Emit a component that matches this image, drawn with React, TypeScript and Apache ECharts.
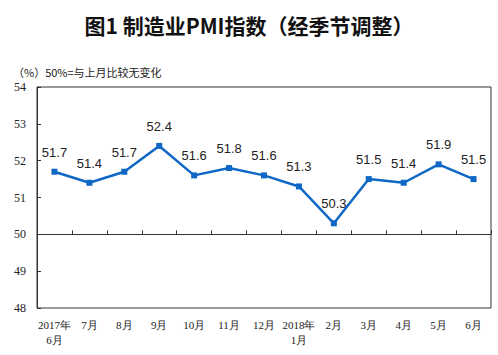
import React, { useEffect, useRef } from "react";
import * as echarts from "echarts";

const categories = ["2017年\n6月", "7月", "8月", "9月", "10月", "11月", "12月", "2018年\n1月", "2月", "3月", "4月", "5月", "6月"];
const pmiValues = [51.7, 51.4, 51.7, 52.4, 51.6, 51.8, 51.6, 51.3, 50.3, 51.5, 51.4, 51.9, 51.5];
const titleText = "图1 制造业PMI指数（经季节调整）";
const noteText = "（%）50%=与上月比较无变化";

export default function App() {
  const ref = useRef<HTMLDivElement>(null);
  useEffect(() => {
    if (!ref.current) return;
    const chart = echarts.init(ref.current, null, { renderer: "svg" });
    const gridTop = 87;
    const gridBottom = 47;
    const gridHeight = 355 - gridTop - gridBottom;
    const offset50 = -(gridHeight * (50 - 48)) / (54 - 48);
    chart.setOption({
      animation: false,
      backgroundColor: "#ffffff",
      title: [
        {
          text: titleText,
          left: "center",
          top: 9,
          textStyle: { fontFamily: "Noto Sans CJK SC", fontWeight: "bold", fontSize: 21, color: "#111" },
        },
        {
          text: noteText,
          left: 8,
          top: 61,
          textStyle: { fontFamily: "Noto Sans CJK SC", fontWeight: "normal", fontSize: 11, color: "#222" },
        },
      ],
      grid: {
        left: 37,
        right: 7,
        top: gridTop,
        bottom: gridBottom,
        show: true,
        borderColor: "#333",
        borderWidth: 1,
        backgroundColor: "transparent",
      },
      xAxis: [
        {
          type: "category",
          data: categories,
          boundaryGap: true,
          position: "bottom",
          axisLine: { show: false },
          axisTick: { show: false },
          axisLabel: {
            interval: 0,
            fontFamily: "Liberation Serif",
            fontSize: 11,
            color: "#222",
            lineHeight: 15,
            margin: 9,
          },
        },
        {
          type: "category",
          data: categories,
          boundaryGap: true,
          position: "bottom",
          offset: offset50,
          axisLine: { show: true, lineStyle: { color: "#333", width: 1 } },
          axisTick: { show: true, inside: true, length: 4, interval: 0, lineStyle: { color: "#333" } },
          axisLabel: { show: false },
        },
      ],
      yAxis: {
        type: "value",
        min: 48,
        max: 54,
        interval: 1,
        axisLine: { show: true, lineStyle: { color: "#333" } },
        axisTick: { show: true, inside: true, length: 4, lineStyle: { color: "#333" } },
        splitLine: { show: false },
        axisLabel: { fontFamily: "Liberation Serif", fontSize: 12, color: "#222", margin: 11 },
      },
      series: [
        {
          type: "line",
          data: pmiValues,
          xAxisIndex: 0,
          symbol: "rect",
          symbolSize: 6,
          lineStyle: { color: "#0f67c6", width: 2.5 },
          itemStyle: { color: "#0f67c6" },
          label: {
            show: true,
            position: "top",
            distance: 10,
            fontFamily: "Liberation Sans",
            fontSize: 13,
            color: "#222",
            formatter: (p: any) => p.value.toFixed(1),
          },
        },
      ],
    });
    return () => chart.dispose();
  }, []);
  return <div ref={ref} style={{ position: "fixed", left: 0, top: 0, width: 498, height: 355 }} />;
}
